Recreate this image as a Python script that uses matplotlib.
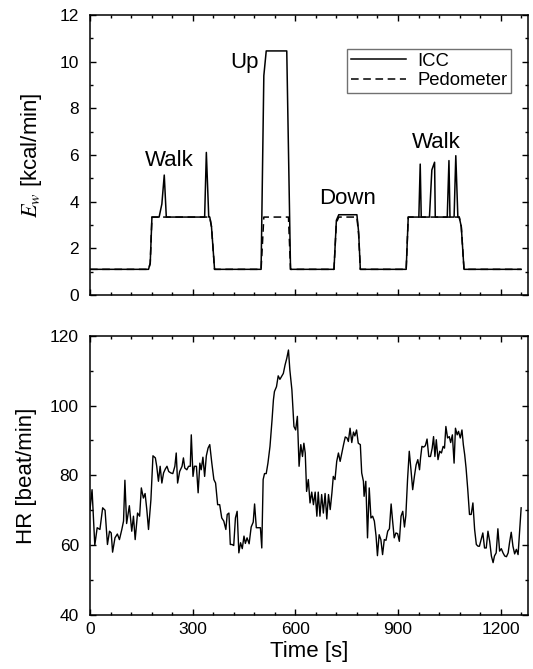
import matplotlib
matplotlib.use("Agg")
import matplotlib.pyplot as plt
from matplotlib.ticker import MultipleLocator

plt.rcParams['font.family'] = ['Liberation Sans', 'DejaVu Sans']
plt.rcParams['mathtext.fontset'] = 'stix'

# ---- Energy expenditure (top panel) ----
icc_t = [0, 171, 176, 181, 202, 210, 217, 223, 335, 340, 347, 350, 355, 364,
         500, 508, 515, 575, 586, 713, 720, 727, 780, 785, 790, 924, 930,
         961, 965, 968, 992, 999, 1007, 1009, 1044, 1049, 1052, 1064, 1069,
         1075, 1079, 1085, 1093, 1260]
icc_v = [1.1, 1.1, 1.36, 3.34, 3.34, 3.9, 5.14, 3.34, 3.34, 6.11, 3.34, 3.34,
         2.93, 1.1, 1.1, 9.4, 10.46, 10.46, 1.1, 1.1, 3.2, 3.44, 3.44, 2.7,
         1.1, 1.1, 3.34, 3.34, 5.61, 3.34, 3.34, 5.36, 5.69, 3.34, 3.34, 5.76,
         3.34, 3.34, 5.97, 3.34, 3.34, 2.93, 1.1, 1.1]
ped_t = [0, 171, 176, 181, 350, 355, 364, 500, 508, 580, 586, 713, 720, 727,
         780, 785, 790, 924, 930, 1079, 1085, 1093, 1260]
ped_v = [1.1, 1.1, 1.36, 3.34, 3.34, 2.93, 1.1, 1.1, 3.34, 3.34, 1.1, 1.1,
         3.1, 3.34, 3.34, 2.6, 1.1, 1.1, 3.34, 3.34, 2.93, 1.1, 1.1]

activity_labels = ["Walk", "Up", "Down", "Walk"]
activity_t = [233, 451, 752, 1012]
activity_y = [5.53, 9.71, 3.9, 6.31]

# ---- Heart rate (bottom panel) ----
hr_t = [0, 6, 14, 21, 29, 37, 44, 51, 57, 62, 66, 73, 80, 86, 93, 98, 102, 107,
        115, 122, 127, 132, 139, 145, 150, 156, 161, 166, 171, 178, 184, 191,
        195, 200, 205, 210, 215, 220, 225, 230, 236, 242, 248, 252, 256, 262,
        269, 273, 277, 283, 288, 293, 296, 301, 305, 311, 316, 321, 325, 330,
        335, 340, 345, 350, 356, 362, 367, 373, 379, 385, 391, 397, 401, 406,
        410, 415, 420, 425, 430, 435, 440, 445, 450, 454, 459, 465, 471, 477,
        481, 486, 493, 498, 502, 506, 510, 515, 520, 526, 532, 536, 539, 545,
        550, 555, 561, 565, 570, 575, 580, 584, 590, 596, 601, 606, 611, 616,
        621, 625, 629, 633, 638, 643, 648, 653, 658, 663, 667, 672, 677, 682,
        687, 692, 697, 702, 707, 711, 716, 721, 726, 731, 736, 741, 746, 751,
        755, 760, 765, 770, 774, 779, 784, 790, 794, 799, 801, 806, 811, 816,
        821, 826, 831, 836, 840, 845, 850, 855, 860, 865, 870, 875, 880, 884,
        889, 894, 899, 904, 909, 914, 919, 923, 928, 933, 938, 943, 948, 953,
        958, 963, 966, 970, 975, 980, 985, 990, 995, 1000, 1004, 1008, 1012,
        1017, 1022, 1027, 1032, 1036, 1040, 1045, 1050, 1054, 1059, 1064, 1068,
        1073, 1077, 1082, 1087, 1091, 1095, 1099, 1104, 1109, 1114, 1119, 1124,
        1129, 1134, 1138, 1143, 1148, 1153, 1158, 1163, 1168, 1173, 1178, 1182,
        1187, 1192, 1197, 1202, 1207, 1212, 1217, 1222, 1226, 1231, 1236, 1241,
        1246, 1251, 1260]
hr_v = [70.2, 75.9, 60.0, 65.0, 64.5, 70.7, 70.0, 60.2, 64.0, 63.5, 58.0, 62.1,
        63.2, 61.6, 64.5, 66.9, 78.6, 66.2, 71.3, 64.0, 68.3, 61.6, 69.2, 68.3,
        76.4, 73.5, 74.8, 70.2, 64.5, 73.0, 85.6, 85.0, 82.6, 78.3, 82.6, 77.8,
        80.7, 81.8, 82.6, 81.1, 80.7, 80.5, 82.6, 86.4, 77.8, 81.1, 82.6, 85.0,
        82.1, 81.6, 82.6, 82.6, 91.6, 79.7, 82.6, 82.6, 75.0, 83.5, 81.6, 85.2,
        79.7, 85.6, 87.8, 88.8, 83.5, 78.8, 77.8, 71.6, 71.6, 67.8, 66.9, 64.5,
        68.8, 69.2, 60.2, 60.2, 59.9, 67.8, 69.7, 57.8, 60.7, 59.0, 62.6, 60.5,
        62.1, 60.4, 65.2, 66.6, 71.8, 65.0, 65.0, 65.0, 59.2, 78.8, 80.5, 80.5,
        83.5, 88.3, 95.9, 101.6, 104.0, 105.4, 108.5, 107.5, 108.5, 109.2, 111.6,
        113.5, 115.9, 110.2, 104.5, 94.0, 93.0, 96.9, 82.6, 88.8, 85.4, 89.2,
        86.4, 75.4, 78.8, 72.1, 75.2, 71.6, 75.2, 68.3, 75.2, 68.3, 74.5, 69.2,
        74.8, 67.5, 74.5, 70.2, 75.0, 79.7, 78.8, 84.0, 86.4, 84.0, 86.4, 88.8,
        91.0, 90.7, 89.7, 93.5, 89.4, 92.4, 91.3, 93.0, 89.2, 88.8, 80.7, 78.3,
        74.0, 78.3, 62.1, 76.4, 67.8, 68.3, 66.9, 62.6, 57.0, 63.0, 61.6, 57.3,
        61.6, 61.4, 64.0, 64.7, 71.8, 67.3, 62.1, 63.5, 63.3, 61.1, 68.3, 69.7,
        65.2, 68.5, 78.8, 86.9, 81.6, 75.9, 79.7, 83.0, 84.5, 81.6, 85.0, 88.3,
        88.1, 88.5, 90.4, 85.4, 85.4, 87.8, 91.1, 85.4, 90.2, 84.5, 86.9, 86.4,
        88.3, 87.8, 94.0, 90.7, 91.1, 89.4, 91.6, 83.5, 93.5, 91.6, 92.6, 90.7,
        93.0, 88.8, 85.9, 82.1, 75.9, 68.8, 68.8, 72.1, 64.5, 60.2, 59.7, 59.7,
        61.6, 63.5, 59.2, 59.2, 64.0, 61.1, 56.9, 55.0, 56.9, 57.8, 64.7, 58.3,
        59.0, 57.8, 56.9, 56.7, 57.8, 60.7, 63.7, 59.7, 57.5, 58.8, 57.3, 70.7]

W, H = 533, 669
fig = plt.figure(figsize=(W / 100, H / 100), dpi=100)
left = 90 / W
width = 438 / W
ax1 = fig.add_axes([left, 1 - 295 / H, width, 280 / H])
ax2 = fig.add_axes([left, 1 - 615 / H, width, 279.3 / H])

tick_fs = 12.5
for ax in (ax1, ax2):
    ax.set_xlim(0, 1280)
    ax.xaxis.set_major_locator(MultipleLocator(300))
    ax.xaxis.set_minor_locator(MultipleLocator(60))
    ax.tick_params(which='both', direction='in', top=True, right=True,
                   labelsize=tick_fs, width=1.0)
    ax.tick_params(which='major', length=4.5, pad=8)
    ax.tick_params(which='minor', length=2.5)
    ax.tick_params(axis='x', pad=5)
    for s in ax.spines.values():
        s.set_linewidth(1.1)

ax1.plot(icc_t, icc_v, color='black', lw=1.1, label='ICC')
ax1.plot(ped_t, ped_v, color='black', lw=1.1, dashes=(5, 3), label='Pedometer')
ax1.set_ylim(0, 12)
ax1.yaxis.set_major_locator(MultipleLocator(2))
ax1.yaxis.set_minor_locator(MultipleLocator(1))
ax1.tick_params(axis='x', labelbottom=False)
ax1.set_ylabel(r'$E_w$ [kcal/min]', fontsize=16, labelpad=11)
for lab, tx, ty in zip(activity_labels, activity_t, activity_y):
    ax1.text(tx, ty, lab, fontsize=16, ha='center', va='baseline')
leg = ax1.legend(loc='upper right', bbox_to_anchor=(0.961, 0.879), fontsize=13.3,
                 frameon=True, fancybox=False, handlelength=3.0,
                 handletextpad=0.6, borderpad=0.2, labelspacing=0.15,
                 borderaxespad=0.0)
leg.get_frame().set_edgecolor('0.3')
leg.get_frame().set_linewidth(1.0)

ax2.plot(hr_t, hr_v, color='black', lw=1.0)
ax2.set_ylim(40, 120)
ax2.yaxis.set_major_locator(MultipleLocator(20))
ax2.yaxis.set_minor_locator(MultipleLocator(10))
ax2.set_ylabel('HR [beat/min]', fontsize=16, labelpad=9.5)
ax2.set_xlabel('Time [s]', fontsize=16, labelpad=3)

fig.savefig('out.png', dpi=100)
